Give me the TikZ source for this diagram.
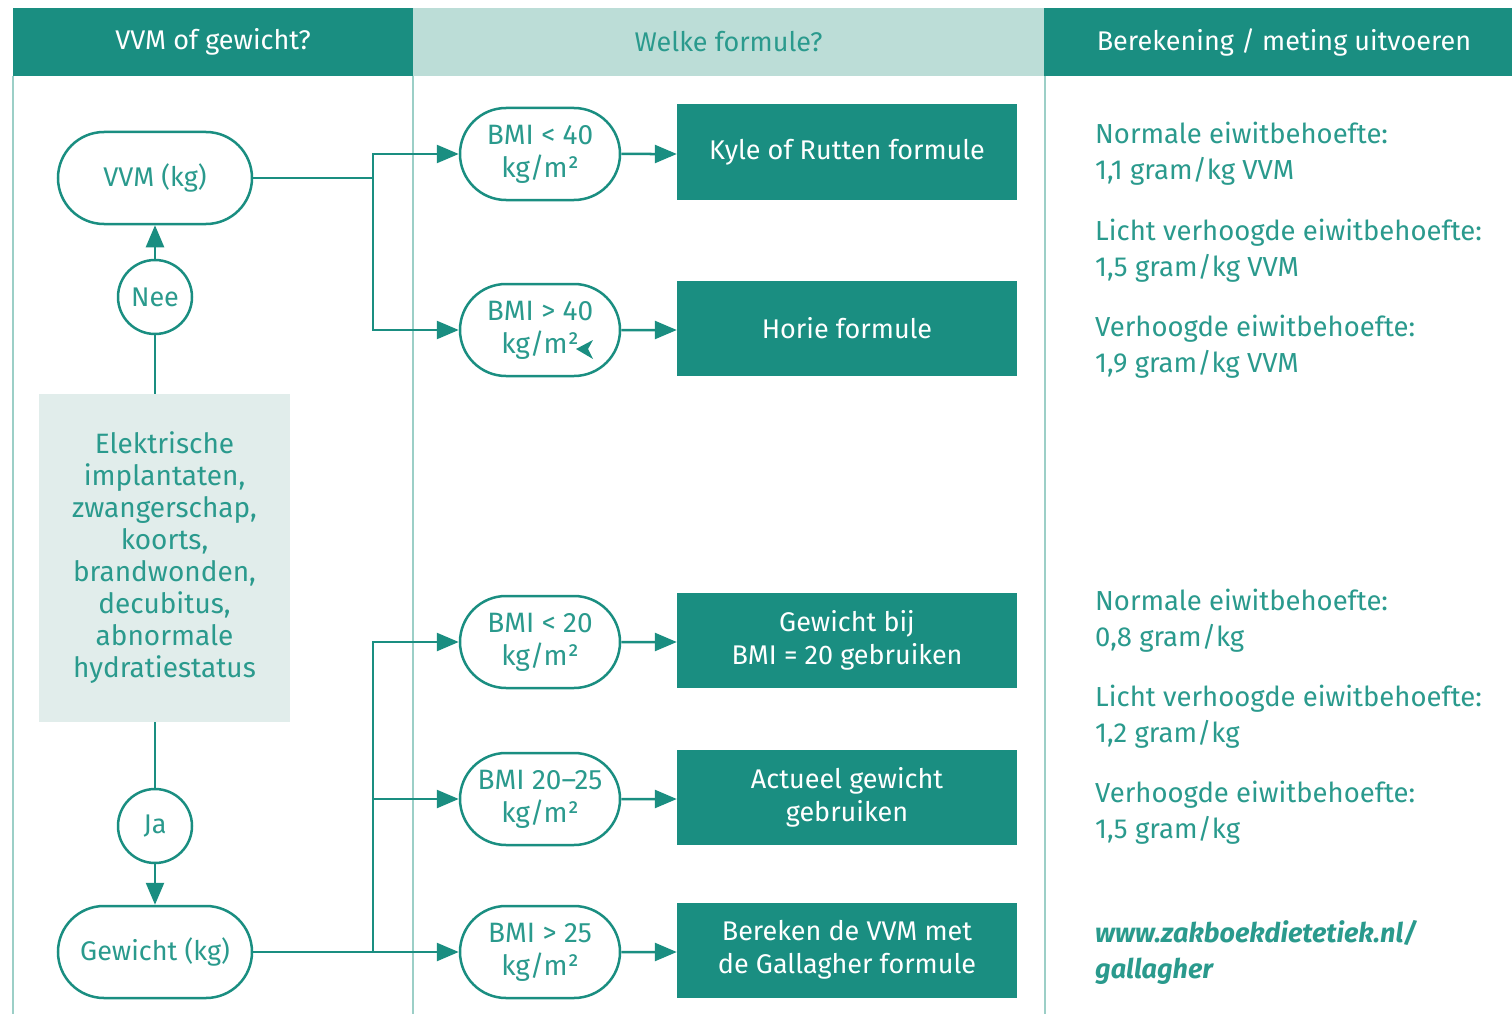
\documentclass[tikz,border=0pt]{standalone}
\usepackage{fontspec}
\setmainfont{Fira Sans}
\usetikzlibrary{arrows.meta,shapes.misc}
\definecolor{tealdark}{HTML}{1A8E81}
\definecolor{tealhead}{HTML}{BCDDD7}
\definecolor{tealbox}{HTML}{E1EDEB}
\definecolor{tealline}{HTML}{9CCFC7}
\definecolor{tealtext}{HTML}{2A9A8D}
\begin{document}
\begin{tikzpicture}[x=1pt,y=-1pt,
 every node/.style={font=\fontsize{27}{33}\selectfont, text=tealtext},
 stadium/.style={rounded rectangle, draw=tealdark, line width=2.5pt, minimum width=194pt, minimum height=92pt, align=center, inner sep=0pt},
 bmi/.style={rounded rectangle, draw=tealdark, line width=2.5pt, minimum width=160pt, minimum height=92pt, align=center, inner sep=0pt, font=\fontsize{28}{33}\selectfont},
 circ/.style={circle, draw=tealdark, line width=2.5pt, minimum size=74pt, inner sep=0pt},
 dark/.style={fill=tealdark, text=white, minimum width=340pt, minimum height=95pt, align=center, inner sep=0pt},
 conn/.style={draw=tealdark, line width=2.5pt},
 arr/.style={conn, -{Triangle[length=22pt,width=18pt]}},
 info/.style={anchor=west, align=left, font=\fontsize{27.5}{36}\selectfont, inner sep=0pt},
 head/.style={minimum height=68pt, inner sep=0pt, font=\fontsize{27}{30}\selectfont},
 condbox/.style={fill=tealbox, minimum width=251pt, minimum height=328pt, align=center, inner sep=0pt, font=\fontsize{28}{32}\selectfont}
]
\useasboundingbox (0,0) rectangle (1512,1014);
\fill[white] (0,0) rectangle (1512,1014);

% headers
\node[head, fill=tealdark, text=white, minimum width=400pt] (h1) at (213,42) {VVM of gewicht?};
\node[head, fill=tealhead, text=tealtext, minimum width=631pt] (h2) at (728.5,42) {Welke formule?};
\node[head, fill=tealdark, text=white, minimum width=468pt] (h3) at (1278,42) {\hspace*{12pt}Berekening / meting uitvoeren};

% column lines
\draw[tealline, line width=2pt] (13,76) -- (13,1014);
\draw[tealline, line width=2pt] (413,76) -- (413,1014);
\draw[tealline, line width=2pt] (1045,76) -- (1045,1014);

% left column
\node[stadium] (vvm) at (155,178) {VVM (kg)};
\node[circ] (nee) at (155,297) {Nee};
\node[condbox] (cond) at (164.5,558) {Elektrische\\implantaten,\\zwangerschap,\\koorts,\\brandwonden,\\decubitus,\\abnormale\\hydratiestatus};
\node[circ] (ja) at (155,826) {Ja};
\node[stadium] (gew) at (155,952) {Gewicht (kg)};

\draw[conn] (nee.south |- cond.north) -- (nee.south);
\draw[arr] (nee.north) -- (vvm.south);
\draw[conn] (ja.north |- cond.south) -- (ja.north);
\draw[arr] (ja.south) -- (gew.north);

% middle column
\node[bmi] (b1) at (540,154) {BMI < 40\\kg/m²};
\node[bmi] (b2) at (540,330) {BMI > 40\\kg/m²};
\node[bmi] (b3) at (540,642) {BMI < 20\\kg/m²};
\node[bmi] (b4) at (540,799) {BMI 20–25\\kg/m²};
\node[bmi] (b5) at (540,952) {BMI > 25\\kg/m²};

\node[dark] (k1) at (847,152) {Kyle of Rutten formule};
\node[dark] (k2) at (847,328) {Horie formule};
\node[dark] (k3) at (847,640) {Gewicht bij\\BMI = 20 gebruiken};
\node[dark] (k4) at (847,797) {Actueel gewicht\\gebruiken};
\node[dark] (k5) at (847,950) {Bereken de VVM met\\de Gallagher formule};

\coordinate (jA) at (373,178);
\coordinate (jB) at (373,952);
\draw[conn] (vvm.east) -- (jA);
\draw[arr] (jA) |- (b1.west);
\draw[arr] (jA) |- (b2.west);
\draw[conn] (gew.east) -- (jB);
\draw[arr] (jB) |- (b3.west);
\draw[arr] (jB) |- (b4.west);
\draw[arr] (jB) -- (b5.west);

\draw[arr] (b1) -- (k1.west |- b1.east);
\draw[arr] (b2) -- (k2.west |- b2.east);
\draw[arr] (b3) -- (k3.west |- b3.east);
\draw[arr] (b4) -- (k4.west |- b4.east);
\draw[arr] (b5) -- (k5.west |- b5.east);

% stray arrowhead
\fill[tealdark] (576,349) -- (593,340) -- (588,349) -- (593,359) -- cycle;

% right column
\node[info] (t1) at (1095,154) {Normale eiwitbehoefte:\\1,1 gram/kg VVM};
\node[info] (t2) at (1095,251) {Licht verhoogde eiwitbehoefte:\\1,5 gram/kg VVM};
\node[info] (t3) at (1095,347) {Verhoogde eiwitbehoefte:\\1,9 gram/kg VVM};
\node[info] (t4) at (1095,621) {Normale eiwitbehoefte:\\0,8 gram/kg};
\node[info] (t5) at (1095,717) {Licht verhoogde eiwitbehoefte:\\1,2 gram/kg};
\node[info] (t6) at (1095,813) {Verhoogde eiwitbehoefte:\\1,5 gram/kg};
\node[info, font=\fontsize{27}{36}\selectfont\bfseries\itshape] (t7) at (1095,952) {www.zakboekdietetiek.nl/\\gallagher};
\end{tikzpicture}
\end{document}
